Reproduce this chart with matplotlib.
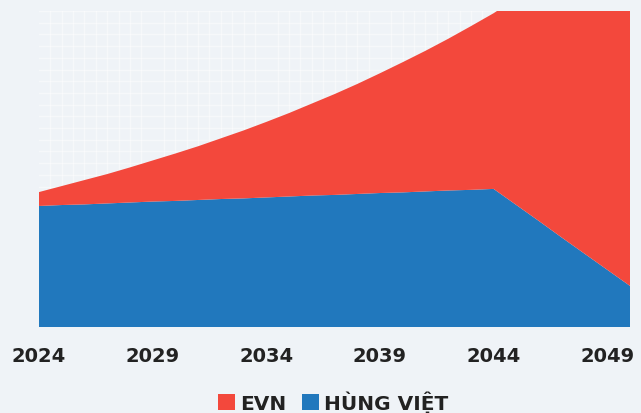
import matplotlib.pyplot as plt
import numpy as np
from matplotlib.patches import Patch
from matplotlib.ticker import MultipleLocator

# yearly values (arbitrary units, axis top = 100)
years = list(range(2024, 2051))
hung_viet = [38.3, 38.6, 38.8, 39.1, 39.4, 39.7, 39.9, 40.2, 40.5, 40.7,
             41.0, 41.3, 41.6, 41.8, 42.1, 42.4, 42.6, 42.9, 43.2, 43.4,
             43.7, 38.6, 33.5, 28.3, 23.2, 18.1, 13.0]
evn = [4.4, 6.0, 7.7, 9.3, 11.1, 13.0, 15.0, 17.0, 19.2, 21.5,
       23.9, 26.4, 29.1, 31.9, 34.8, 37.9, 41.2, 44.5, 48.0, 51.8,
       55.6, 65.4, 75.5, 85.7, 95.8, 106.9, 118.0]
tick_years = [2024, 2029, 2034, 2039, 2044, 2049]

red = '#f3483c'
blue = '#2178bd'
bg = '#eff3f7'
txt = '#222222'

fig = plt.figure(figsize=(6.41, 4.14), dpi=100)
fig.patch.set_facecolor(bg)
ax = fig.add_axes([39/641, 86/414, 591/641, 316/414])
ax.set_facecolor(bg)

ax.stackplot(years, hung_viet, evn, colors=[blue, red], linewidth=0, zorder=3)

ax.set_xlim(2024, 2050)
ax.set_ylim(0, 100)
ax.set_xticks(tick_years)
ax.set_yticks([])
ax.xaxis.set_minor_locator(MultipleLocator(0.5))
ax.yaxis.set_minor_locator(MultipleLocator(100/27))
ax.grid(which='minor', color='white', alpha=0.45, linewidth=1.0, zorder=0)
ax.tick_params(axis='x', which='both', length=0, pad=14)
ax.tick_params(axis='y', which='both', length=0)
for lab in ax.get_xticklabels():
    lab.set_fontsize(14)
    lab.set_fontweight('bold')
    lab.set_color(txt)
for s in ax.spines.values():
    s.set_visible(False)

handles = [Patch(facecolor=red, edgecolor='none', label='EVN'),
           Patch(facecolor=blue, edgecolor='none', label='HÙNG VIỆT')]
leg = fig.legend(handles=handles, loc='center', bbox_to_anchor=(333/641, 11/414),
                 ncol=2, frameon=False, handlelength=0.85, handleheight=0.85,
                 handletextpad=0.25, columnspacing=0.8, borderaxespad=0,
                 prop={'size': 14.5, 'weight': 'bold'})
for t in leg.get_texts():
    t.set_color(txt)

fig.savefig('out.png', dpi=100, facecolor=bg)
